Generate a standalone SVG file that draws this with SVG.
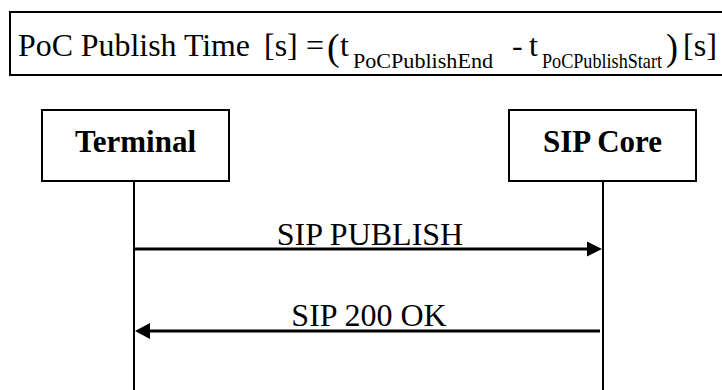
<svg xmlns="http://www.w3.org/2000/svg" width="722" height="390" viewBox="0 0 722 390">
<style>
.box{fill:#fff;stroke:#000;stroke-width:2}
.life{stroke:#000;stroke-width:2}
.msg{stroke:#000;stroke-width:3}
.head{fill:#000}
text{font-family:"Liberation Serif","Times New Roman",Times,"DejaVu Serif",serif;fill:#000}
.lbl{font-size:32px}
.node{font-size:31px;font-weight:bold;text-anchor:middle}
.sub{font-size:22px}
.par{font-size:38px}
</style>
<rect width="722" height="390" fill="#fff"/>
<g id="formula">
<rect class="box" x="10" y="12" width="720" height="63"/>
<text class="lbl" x="18" y="56" textLength="232" lengthAdjust="spacingAndGlyphs">PoC Publish Time</text>
<text class="lbl" x="264" y="56">[s]</text>
<text class="lbl" x="306" y="56">=</text>
<text class="par" x="327" y="60">(</text>
<text class="lbl" x="340" y="56">t</text>
<text class="sub" x="353" y="68" textLength="140" lengthAdjust="spacingAndGlyphs">PoCPublishEnd</text>
<text class="lbl" x="512" y="56">-</text>
<text class="lbl" x="529" y="56">t</text>
<text class="sub" x="542" y="68" textLength="120" lengthAdjust="spacingAndGlyphs">PoCPublishStart</text>
<text class="par" x="666" y="60" textLength="12" lengthAdjust="spacingAndGlyphs">)</text>
<text class="lbl" x="683" y="56" textLength="34" lengthAdjust="spacingAndGlyphs">[s]</text>
</g>
<g id="terminal">
<rect class="box" x="42" y="110" width="187" height="71"/>
<text class="node" x="135.5" y="152">Terminal</text>
</g>
<g id="sipcore">
<rect class="box" x="509" y="110" width="187" height="71"/>
<text class="node" x="602.5" y="152">SIP Core</text>
</g>
<g id="connectors">
<line class="life" x1="134" y1="181" x2="134" y2="390"/>
<line class="life" x1="603" y1="181" x2="603" y2="390"/>
<line class="msg" x1="135" y1="249" x2="590" y2="249"/>
<polygon class="head" points="602,249 587,241.5 587,256.5"/>
<text class="lbl" x="370" y="245" text-anchor="middle">SIP PUBLISH</text>
<line class="msg" x1="600" y1="331" x2="146" y2="331"/>
<polygon class="head" points="135,331 150,323 150,339"/>
<text class="lbl" x="369" y="326" text-anchor="middle">SIP 200 OK</text>
</g>
</svg>
